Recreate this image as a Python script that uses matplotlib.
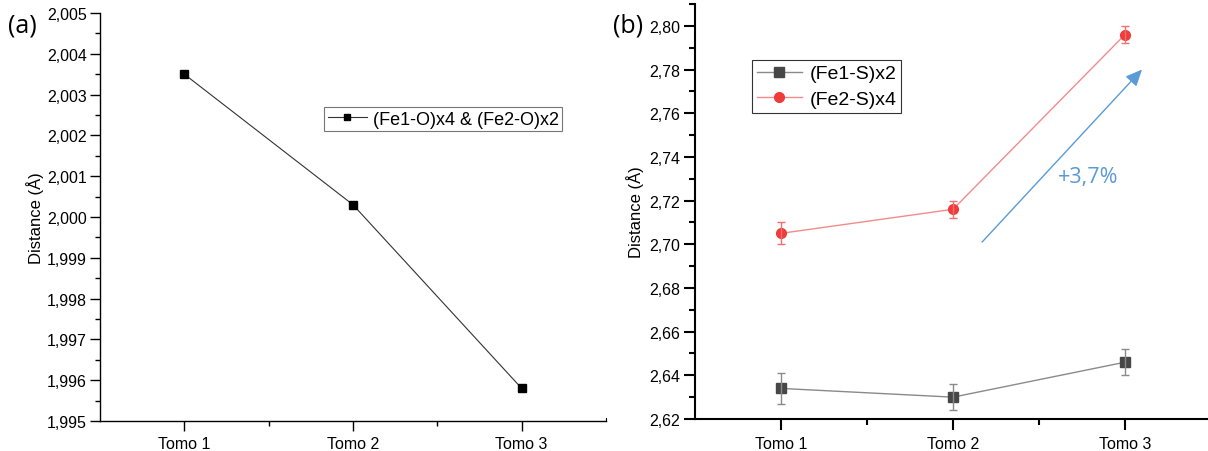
import numpy as np
import matplotlib
matplotlib.use("Agg")
import matplotlib.pyplot as plt
from matplotlib.ticker import MultipleLocator, FixedLocator, FuncFormatter

plt.rcParams['font.family'] = ['Liberation Sans', 'DejaVu Sans']

# данные
tomos = ['Tomo 1', 'Tomo 2', 'Tomo 3']
fe_o = [2.0035, 2.0003, 1.9958]
fe1_s = [2.634, 2.630, 2.646]
fe1_s_err = [0.007, 0.006, 0.006]
fe2_s = [2.705, 2.716, 2.796]
fe2_s_err = [0.005, 0.004, 0.004]

x = np.arange(1, len(tomos) + 1)

W, H = 1208, 452
fig = plt.figure(figsize=(W / 100, H / 100), dpi=100)

def comma_fmt(nd):
    return FuncFormatter(lambda v, p: f'{v:.{nd}f}'.replace('.', ','))

def style_axes(ax, lw, tl, lp):
    ax.spines['top'].set_visible(False)
    ax.spines['right'].set_visible(False)
    for s in ('left', 'bottom'):
        ax.spines[s].set_linewidth(lw)
    ax.set_xticks(x)
    ax.set_xticklabels(tomos, fontsize=11)
    ax.xaxis.set_minor_locator(FixedLocator([1.5, 2.5]))
    ax.tick_params(which='major', direction='out', length=tl, width=lw, labelsize=11.5, pad=2.5)
    ax.tick_params(axis='x', which='major', pad=4)
    ax.tick_params(which='minor', direction='out', length=tl / 2, width=lw)
    ax.set_ylabel('Distance (Å)', fontsize=12, labelpad=lp)

# (a)
ax1 = fig.add_axes([100/W, 1-422/H, (606-100)/W, (422-14)/H])
ax1.plot(x, fe_o, '-', color='#333333', lw=0.8, marker='s', ms=6,
         mfc='black', mec='black', label='(Fe1-O)x4 & (Fe2-O)x2')
ax1.set_xlim(0.5, 3.5)
ax1.set_ylim(1.995, 2.005)
ax1.yaxis.set_major_locator(MultipleLocator(0.001))
ax1.yaxis.set_minor_locator(MultipleLocator(0.0005))
ax1.yaxis.set_major_formatter(comma_fmt(3))
style_axes(ax1, 1.0, 7, 2)
ax1.spines['right'].set_visible(True)
ax1.spines['right'].set_bounds(1.995, 1.99508)
leg1 = ax1.legend(loc='upper left', bbox_to_anchor=((324-100)/506, 1-(108-14)/408),
                  fontsize=13, frameon=True, fancybox=False, handlelength=2.2,
                  handletextpad=0.3, borderpad=0.2, borderaxespad=0, markerscale=0.75)
leg1.get_frame().set_edgecolor('#555555')
leg1.get_frame().set_linewidth(0.8)
fig.text(22/W, 1-26/H, '(a)', fontsize=18, family=['Open Sans', 'DejaVu Sans'],
         ha='center', va='center')

# (b)
ax2 = fig.add_axes([695/W, 1-420/H, (W-695)/W, (420-5)/H])
ax2.plot(x, fe1_s, '-', color='#8a8a8a', lw=1.0, label='(Fe1-S)x2',
         marker='s', ms=7, mfc='#474747', mec='#474747')
ax2.errorbar(x, fe1_s, yerr=fe1_s_err, fmt='none', ecolor='#8a8a8a',
             elinewidth=1.0, capsize=3, capthick=1.0)
ax2.plot(x, fe2_s, '-', color='#f28b8b', lw=1.0, label='(Fe2-S)x4',
         marker='o', ms=7, mfc='#ee3b3b', mec='#ee3b3b')
ax2.errorbar(x, fe2_s, yerr=fe2_s_err, fmt='none', ecolor='#f07070',
             elinewidth=1.0, capsize=3, capthick=1.0)
ax2.set_xlim(0.5, 1 + (W-781)/172)
ax2.set_ylim(2.62, 2.81)
ax2.yaxis.set_major_locator(MultipleLocator(0.02))
ax2.yaxis.set_minor_locator(MultipleLocator(0.01))
ax2.yaxis.set_major_formatter(comma_fmt(2))
style_axes(ax2, 1.5, 8, 4)
leg2 = ax2.legend(loc='upper left', bbox_to_anchor=((752-695)/513, 1-(61-5)/415),
                  fontsize=14, frameon=True, fancybox=False, handlelength=2.3,
                  handletextpad=0.4, borderpad=0.25, labelspacing=0.4, borderaxespad=0)
leg2.get_frame().set_edgecolor('black')
leg2.get_frame().set_linewidth(0.8)

ax2.annotate('', xy=(3.099, 2.780), xytext=(2.169, 2.701),
             arrowprops=dict(arrowstyle='-|>,head_length=1.0,head_width=0.45',
                             color='#5b9bd5', lw=1.0, shrinkA=0, shrinkB=0))
ax2.text(2.785, 2.7308, '+3,7%', color='#5b9bd5', fontsize=15.5,
         family=['Open Sans', 'DejaVu Sans'], ha='center', va='center')
fig.text(628/W, 1-26/H, '(b)', fontsize=18, family=['Open Sans', 'DejaVu Sans'],
         ha='center', va='center')

fig.savefig('out.png', dpi=100)
